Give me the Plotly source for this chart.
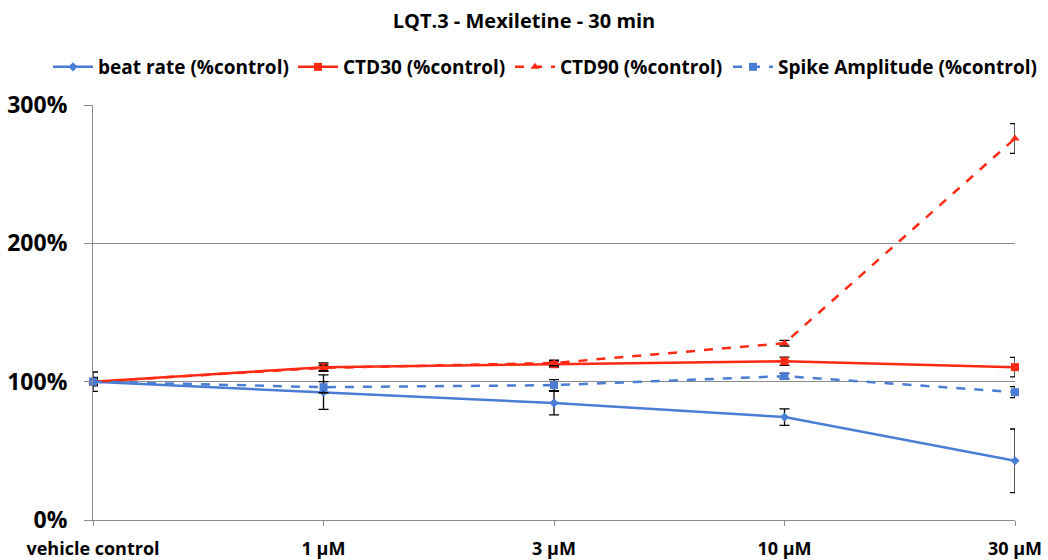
import plotly.graph_objects as go

categories = ["vehicle control", "1 µM", "3 µM", "10 µM", "30 µM"]
beat_rate = [100, 92.4, 84.5, 74.4, 42.8]
beat_rate_err = [7, 12.5, 8.5, 6, 23]
ctd30 = [100, 110.5, 112.6, 114.8, 110.5]
ctd30_err = [2, 3, 2, 3, 7]
ctd90 = [100, 110, 113.5, 127.8, 275.8]
ctd90_err = [2, 2, 2, 2, 10.7]
spike_amp = [100, 96, 97.5, 104, 92.4]
spike_amp_err = [3, 4, 4, 2, 4]

BLUE = "#4a7dd4"
RED = "#ff2a14"
x = list(range(len(categories)))

def err(vals):
    return dict(type="data", array=vals, visible=True, color="black", thickness=1.3, width=5)

fig = go.Figure()
fig.add_trace(go.Scatter(x=x, y=beat_rate, name="<b>beat rate (%control)</b>", mode="lines+markers",
                         line=dict(color=BLUE, width=2.5), marker=dict(symbol="diamond", size=7, color=BLUE),
                         error_y=err(beat_rate_err), cliponaxis=False, legend="legend"))
fig.add_trace(go.Scatter(x=x, y=ctd30, name="<b>CTD30 (%control)</b>", mode="lines+markers",
                         line=dict(color=RED, width=2.5), marker=dict(symbol="square", size=8, color=RED),
                         error_y=err(ctd30_err), cliponaxis=False, legend="legend2"))
fig.add_trace(go.Scatter(x=x, y=ctd90, name="<b>CTD90 (%control)</b>", mode="lines+markers",
                         line=dict(color=RED, width=2.5, dash="dash"), marker=dict(symbol="triangle-up", size=8, color=RED),
                         error_y=err(ctd90_err), cliponaxis=False, legend="legend3"))
fig.add_trace(go.Scatter(x=x, y=spike_amp, name="<b>Spike Amplitude (%control)</b>", mode="lines+markers",
                         line=dict(color=BLUE, width=2.5, dash="dash"), marker=dict(symbol="square", size=8, color=BLUE),
                         error_y=err(spike_amp_err), cliponaxis=False, legend="legend4"))

def leg(px):
    return dict(orientation="h", x=px / 1048, xref="container", xanchor="left",
                y=1 - 67 / 560, yref="container", yanchor="middle",
                font=dict(size=19), itemwidth=40, bgcolor="rgba(0,0,0,0)")

fig.update_layout(
    width=1048, height=560,
    margin=dict(l=93, r=33, t=105, b=40),
    paper_bgcolor="white", plot_bgcolor="white",
    font=dict(family="Open Sans", size=15, color="black"),
    title=dict(text="<b>LQT.3 - Mexiletine - 30 min</b>", x=0.5, xanchor="center", y=0.962, yanchor="middle",
               font=dict(size=20)),
    legend=leg(48), legend2=leg(293), legend3=leg(510), legend4=leg(728),
    showlegend=True,
)
fig.update_xaxes(range=[0, 4], tickmode="array", tickvals=x, ticktext=["<b>%s</b>" % c for c in categories],
                 tickfont=dict(size=18), automargin=False, ticklabelstandoff=7,
                 showgrid=False, showline=True, linecolor="#8c8c8c", linewidth=1,
                 ticks="outside", ticklen=5, tickcolor="#8c8c8c", zeroline=False, fixedrange=True)
fig.update_yaxes(range=[0, 300], tickvals=[0, 100, 200, 300], ticktext=["<b>0%</b>", "<b>100%</b>", "<b>200%</b>", "<b>300%</b>"],
                 tickfont=dict(size=23), automargin=False, ticklabelstandoff=12,
                 showgrid=True, gridcolor="#8c8c8c", gridwidth=1, showline=True, linecolor="#8c8c8c",
                 ticks="outside", ticklen=8, tickcolor="#8c8c8c", zeroline=False, fixedrange=True)

fig.write_html("out.html")
